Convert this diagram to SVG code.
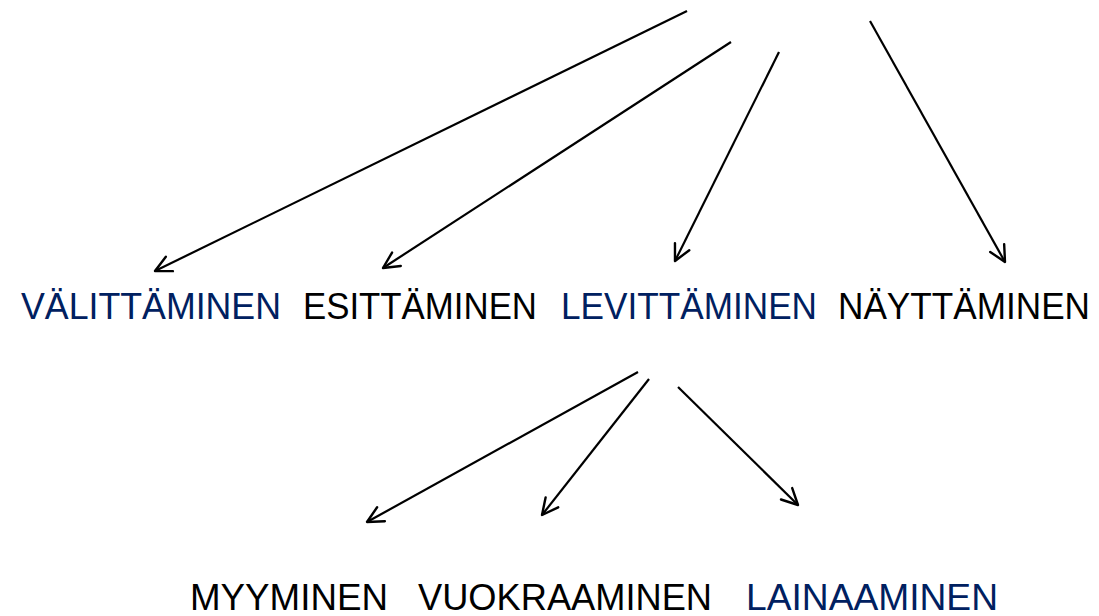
<svg xmlns="http://www.w3.org/2000/svg" width="1099" height="616" viewBox="0 0 1099 616">
<defs>
<style>
text{font-family:"Liberation Sans","Noto Sans",Arial,sans-serif;}
.r1{font-size:37px;}
.r2{font-size:37px;}
.blue{fill:#002060;}
.black{fill:#000;}
.conn line{stroke:#000;stroke-width:2.2;fill:none;marker-end:url(#arr);}
</style>
<marker id="arr" markerUnits="userSpaceOnUse" viewBox="0 0 20 20" refX="18" refY="10" markerWidth="20" markerHeight="20" orient="auto">
<path d="M2,2 L18,10 L2,18" fill="none" stroke="#000" stroke-width="2.4" stroke-linecap="round" stroke-linejoin="round"/>
</marker>
</defs>
<rect width="1099" height="616" fill="#fff"/>
<g id="n-valittaminen"><text class="r1 blue" x="21" y="319" textLength="260" lengthAdjust="spacingAndGlyphs">VÄLITTÄMINEN</text></g>
<g id="n-esittaminen"><text class="r1 black" x="303" y="319" textLength="234" lengthAdjust="spacingAndGlyphs">ESITTÄMINEN</text></g>
<g id="n-levittaminen"><text class="r1 blue" x="561" y="319" textLength="256" lengthAdjust="spacingAndGlyphs">LEVITTÄMINEN</text></g>
<g id="n-nayttaminen"><text class="r1 black" x="838" y="319" textLength="252" lengthAdjust="spacingAndGlyphs">NÄYTTÄMINEN</text></g>
<g id="n-myyminen"><text class="r2 black" x="190" y="610" textLength="198" lengthAdjust="spacingAndGlyphs">MYYMINEN</text></g>
<g id="n-vuokraaminen"><text class="r2 black" x="418" y="610" textLength="294" lengthAdjust="spacingAndGlyphs">VUOKRAAMINEN</text></g>
<g id="n-lainaaminen"><text class="r2 blue" x="746" y="610" textLength="252" lengthAdjust="spacingAndGlyphs">LAINAAMINEN</text></g>
<g id="connectors" class="conn">
<line x1="687" y1="11" x2="155" y2="271"/>
<line x1="731" y1="42" x2="383" y2="268"/>
<line x1="779" y1="52" x2="675" y2="261"/>
<line x1="870" y1="21" x2="1005" y2="262"/>
<line x1="638" y1="372" x2="367" y2="522"/>
<line x1="649" y1="379" x2="542" y2="515"/>
<line x1="678" y1="387" x2="798" y2="505"/>
</g>
</svg>
